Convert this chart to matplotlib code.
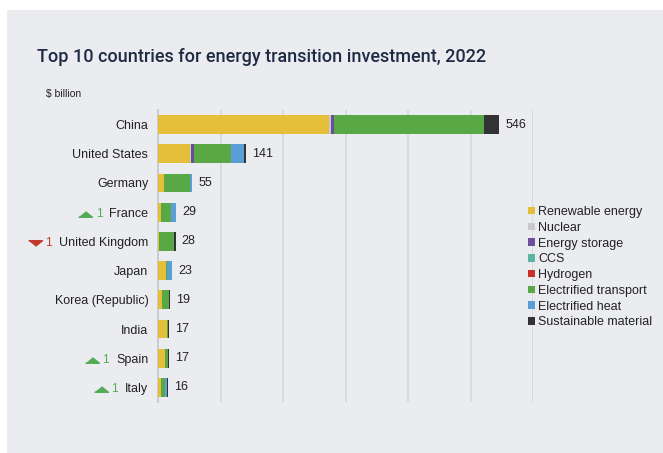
import numpy as np
import matplotlib
matplotlib.use("Agg")
import matplotlib.pyplot as plt
from matplotlib.patches import Rectangle

# Данні (млрд $)
countries = ["China", "United States", "Germany", "France", "United Kingdom",
             "Japan", "Korea (Republic)", "India", "Spain", "Italy"]
totals = [546, 141, 55, 29, 28, 23, 19, 17, 17, 16]
segments = ["Renewable energy", "Nuclear", "Energy storage", "CCS", "Hydrogen",
            "Electrified transport", "Electrified heat", "Sustainable material"]
renewable = [273, 51, 10, 4, 2, 12, 7, 14, 11, 4]
nuclear = [3, 2, 0, 1, 0, 0, 0, 0, 0, 0]
storage = [5, 4, 0, 0, 0, 1, 0, 0, 0, 0]
ccs = [0, 0, 0, 0, 0, 0, 0, 0, 0, 0]
hydrogen = [0, 0, 0, 0, 0, 0, 0, 0, 0, 0]
transport = [240, 59, 41, 16, 24, 2, 11, 2, 5, 7]
heat = [0, 22, 3, 7, 0, 8, 0, 0, 0, 4]
material = [25, 3, 1, 1, 2, 0, 1, 1, 1, 1]
rank_change = [0, 0, 0, 1, -1, 0, 0, 0, 1, 1]

colors = ["#e5be3a", "#c9c9cc", "#6b4f9e", "#5bb5a2", "#c8302c",
          "#58a846", "#5b9fd6", "#333336"]
bg = "#ebecef"

plt.rcParams['font.family'] = ['Liberation Sans', 'DejaVu Sans']

fig = plt.figure(figsize=(6.63, 4.53), dpi=100)
fig.patch.set_facecolor("white")
fig.patches.append(Rectangle((7 / 663, 0), 1, 1 - 10 / 453, transform=fig.transFigure,
                             facecolor=bg, edgecolor="none", zorder=-10))

ax = fig.add_axes([158 / 663, 1 - 402 / 453, (533 - 158) / 663, (402 - 110) / 453])
ax.patch.set_alpha(0)

y = np.arange(len(countries))
left = np.zeros(len(countries))
for name, vals, c in zip(segments, [renewable, nuclear, storage, ccs, hydrogen,
                                    transport, heat, material], colors):
    ax.barh(y, vals, left=left, height=0.65, color=c, label=name, zorder=3)
    left += np.array(vals)

for yi, t, l in zip(y, totals, left):
    ax.text(l + 10, yi, str(t), va="center", ha="left", fontsize=9, color="#222222")

ax.set_xlim(0, 600)
ax.set_ylim(len(countries) - 0.5, -0.5)
ax.set_xticks([100, 200, 300, 400, 500, 600])
ax.set_xticklabels([])
ax.tick_params(axis="x", length=0)
ax.grid(axis="x", color="#d4d5d9", linewidth=1.1, zorder=0)
ax.set_yticks(y)
ax.set_yticklabels(countries, fontsize=9, color="#222222")
ax.tick_params(axis="y", length=0, pad=7)
for s in ["top", "right", "bottom"]:
    ax.spines[s].set_visible(False)
ax.spines["left"].set_color("#c4c5c9")
ax.spines["left"].set_linewidth(1.2)

fig.text(37 / 663, 1 - 57 / 453, "Top 10 countries for energy transition investment, 2022",
         fontsize=13, color="#1f2a44", family="Roboto", fontweight="medium", va="center")
fig.text(46 / 663, 1 - 94 / 453, "$ billion", fontsize=7.5, color="#222222", va="center")

# Зміни рейтингу
fig.canvas.draw()
renderer = fig.canvas.get_renderer()
tri_up = [(-1, -0.4), (1, -0.4), (0, 0.4)]
tri_dn = [(-1, 0.4), (1, 0.4), (0, -0.4)]
for lab, ch in zip(ax.get_yticklabels(), rank_change):
    if ch == 0:
        continue
    bb = lab.get_window_extent(renderer)
    cy = (bb.y0 + bb.y1) / 2
    col = "#55aa55" if ch > 0 else "#c0392b"
    x1 = bb.x0 - 7
    fig.text(x1 / 663, cy / 453, str(abs(ch)), ha="right", va="center",
             fontsize=8.5, color=col)
    fig.lines.append(plt.Line2D([(x1 - 17) / 663], [cy / 453], transform=fig.transFigure,
                                marker=tri_up if ch > 0 else tri_dn, markersize=10,
                                color=col, linestyle="none"))

leg = fig.legend(loc="upper left", bbox_to_anchor=(523 / 663, 1 - 201 / 453),
                 frameon=False, fontsize=9, handlelength=0.55, handleheight=0.55,
                 handletextpad=0.25, labelspacing=0.3, borderaxespad=0)
for t in leg.get_texts():
    t.set_color("#222222")

fig.savefig("out.png", dpi=100, facecolor=fig.get_facecolor())
